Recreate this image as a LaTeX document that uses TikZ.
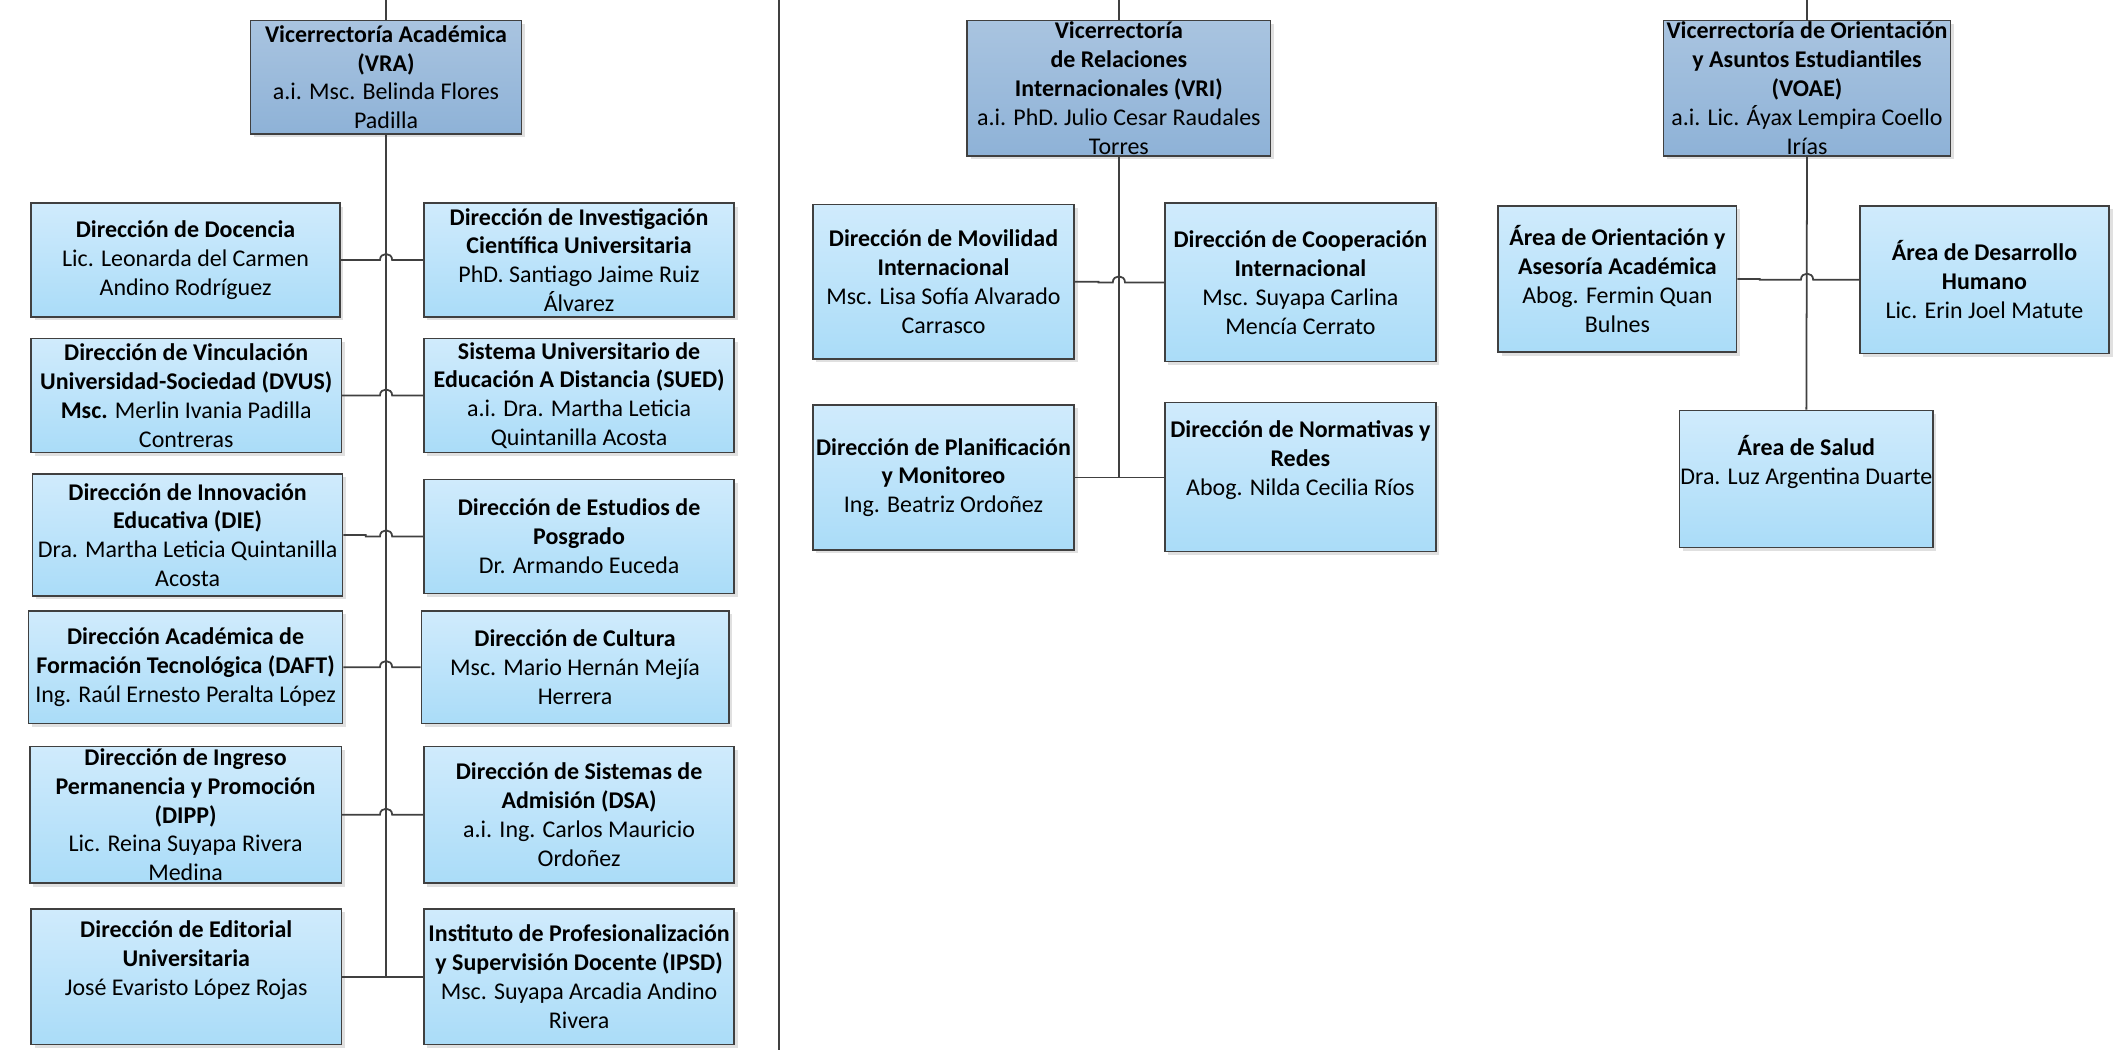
\documentclass[tikz,border=0pt]{standalone}
\usepackage{fontspec}
\setmainfont{Carlito}
\usetikzlibrary{calc,shadows}
\definecolor{lineC}{HTML}{404040}
\definecolor{darkT}{HTML}{A9C4E0}
\definecolor{darkB}{HTML}{8EB2D7}
\definecolor{lightT}{HTML}{D0EBFC}
\definecolor{lightB}{HTML}{AADCF8}
\tikzset{
  orgbase/.style={draw=lineC, line width=1.1pt, align=center, inner sep=0pt,
    font={\fontsize{17.7}{21.3}\selectfont},
    drop shadow={shadow xshift=2.5pt, shadow yshift=-2.5pt, fill=black!30, opacity=0.4}},
  vrbox/.style={orgbase, top color=darkT, bottom color=darkB},
  unitbox/.style={orgbase, top color=lightT, bottom color=lightB},
  conn/.style={draw=lineC, line width=1.3pt}
}
\newcommand{\orgbox}[7]{%
  \node[#6, minimum width={(#4-#2)*1pt}, minimum height={(#5-#3)*1pt}]
    (#1) at ({(#2+#4)/2},{(#3+#5)/2}) {#7};}
% hop connector: left node, right node, trunk node, jog coordinate
\newcommand{\hopconn}[4]{%
  \draw[conn] (#1.east) -- (#1.east -| #4) -- (#4 |- #2.west)
    -- ($(#2.west -| #3)+(-4.5,0)$) .. controls +(0,-6) and +(0,-6) .. ($(#2.west -| #3)+(4.5,0)$)
    -- (#2.west);}
\begin{document}
\begin{tikzpicture}[x=1pt,y=-1pt]
\useasboundingbox (0,0) rectangle (1568,775);
\coordinate (top) at (0,0);
\coordinate (sepT) at (575,0);
\coordinate (sepB) at (575,775);
\coordinate (jA) at (270,0);
\coordinate (jB) at (811,0);
\coordinate (jC) at (1299,0);

% separator
\draw[conn] (sepT) -- (sepB);

% ---- VRA ----
\orgbox{vra}{185}{15}{385}{99}{vrbox}{\textbf{Vicerrectoría Académica}\\\textbf{(VRA)}\\a.i. Msc. Belinda Flores\\Padilla}
\orgbox{doc}{23}{150}{251}{234}{unitbox}{\textbf{Dirección de Docencia}\\Lic. Leonarda del Carmen\\Andino Rodríguez}
\orgbox{inv}{313}{150}{542}{234}{unitbox}{\textbf{Dirección de Investigación}\\\textbf{Científica Universitaria}\\PhD. Santiago Jaime Ruiz\\Álvarez}
\orgbox{vin}{23}{250}{252}{334}{unitbox}{\textbf{Dirección de Vinculación}\\\textbf{Universidad-Sociedad (DVUS)}\\\textbf{Msc.} Merlin Ivania Padilla\\Contreras}
\orgbox{sued}{313}{250}{542}{334}{unitbox}{\textbf{Sistema Universitario de}\\\textbf{Educación A Distancia (SUED)}\\a.i. Dra. Martha Leticia\\Quintanilla Acosta}
\orgbox{ino}{24}{350}{253}{440}{unitbox}{\textbf{Dirección de Innovación}\\\textbf{Educativa (DIE)}\\Dra. Martha Leticia Quintanilla\\Acosta}
\orgbox{pos}{313}{354}{542}{438}{unitbox}{\textbf{Dirección de Estudios de}\\\textbf{Posgrado}\\Dr. Armando Euceda}
\orgbox{daft}{21}{451}{253}{534}{unitbox}{\textbf{Dirección Académica de}\\\textbf{Formación Tecnológica (DAFT)}\\Ing. Raúl Ernesto Peralta López}
\orgbox{cul}{311}{451}{538}{534}{unitbox}{\textbf{Dirección de Cultura}\\Msc. Mario Hernán Mejía\\Herrera}
\orgbox{dipp}{22}{551}{252}{652}{unitbox}{\textbf{Dirección de Ingreso}\\\textbf{Permanencia y Promoción}\\\textbf{(DIPP)}\\Lic. Reina Suyapa Rivera\\Medina}
\orgbox{dsa}{313}{551}{542}{652}{unitbox}{\textbf{Dirección de Sistemas de}\\\textbf{Admisión (DSA)}\\a.i. Ing. Carlos Mauricio\\Ordoñez}
\orgbox{edi}{23}{671}{252}{771}{unitbox}{\textbf{Dirección de Editorial}\\\textbf{Universitaria}\\José Evaristo López Rojas\\\strut}
\orgbox{ipsd}{313}{671}{542}{771}{unitbox}{\textbf{Instituto de Profesionalización}\\\textbf{y Supervisión Docente (IPSD)}\\Msc. Suyapa Arcadia Andino\\Rivera}

% ---- VRI ----
\orgbox{vri}{714}{15}{938}{115}{vrbox}{\textbf{Vicerrectoría}\\\textbf{de Relaciones}\\\textbf{Internacionales (VRI)}\\a.i. PhD. Julio Cesar Raudales\\Torres}
\orgbox{mov}{600}{151}{793}{265}{unitbox}{\textbf{Dirección de Movilidad}\\\textbf{Internacional}\\Msc. Lisa Sofía Alvarado\\Carrasco}
\orgbox{coo}{860}{150}{1060}{267}{unitbox}{\textbf{Dirección de Cooperación}\\\textbf{Internacional}\\Msc. Suyapa Carlina\\Mencía Cerrato}
\orgbox{pla}{600}{299}{793}{406}{unitbox}{\textbf{Dirección de Planificación}\\\textbf{y Monitoreo}\\Ing. Beatriz Ordoñez}
\orgbox{nor}{860}{297}{1060}{407}{unitbox}{\textbf{Dirección de Normativas y}\\\textbf{Redes}\\Abog. Nilda Cecilia Ríos\\\strut}

% ---- VOAE ----
\orgbox{voae}{1228}{15}{1440}{115}{vrbox}{\textbf{Vicerrectoría de Orientación}\\\textbf{y Asuntos Estudiantiles}\\\textbf{(VOAE)}\\a.i. Lic. Áyax Lempira Coello\\Irías}
\orgbox{ori}{1106}{152}{1282}{260}{unitbox}{\textbf{Área de Orientación y}\\\textbf{Asesoría Académica}\\Abog. Fermin Quan\\Bulnes}
\orgbox{des}{1373}{152}{1557}{261}{unitbox}{\textbf{Área de Desarrollo}\\\textbf{Humano}\\Lic. Erin Joel Matute}
\orgbox{sal}{1240}{303}{1427}{404}{unitbox}{\textbf{Área de Salud}\\Dra. Luz Argentina Duarte\\\strut}

% ---- stubs to top ----
\draw[conn] (vra.north) -- (vra.north |- top);
\draw[conn] (vri.north) -- (vri.north |- top);
\draw[conn] (voae.north) -- (voae.north |- top);

% ---- trunks ----
\draw[conn] (vra.south) -- (vra.south |- edi.east);
\draw[conn] (vri.south) -- (vri.south |- pla.east);
\draw[conn] (voae.south) -- (sal.north);

% ---- connectors ----
\hopconn{doc}{inv}{vra.south}{jA}
\hopconn{vin}{sued}{vra.south}{jA}
\hopconn{ino}{pos}{vra.south}{jA}
\hopconn{daft}{cul}{vra.south}{jA}
\hopconn{dipp}{dsa}{vra.south}{jA}
\draw[conn] (edi.east) -- (ipsd.west);

\hopconn{mov}{coo}{vri.south}{jB}
\draw[conn] (pla.east) -- (pla.east -| nor.west);

\hopconn{ori}{des}{voae.south}{jC}
\end{tikzpicture}
\end{document}
